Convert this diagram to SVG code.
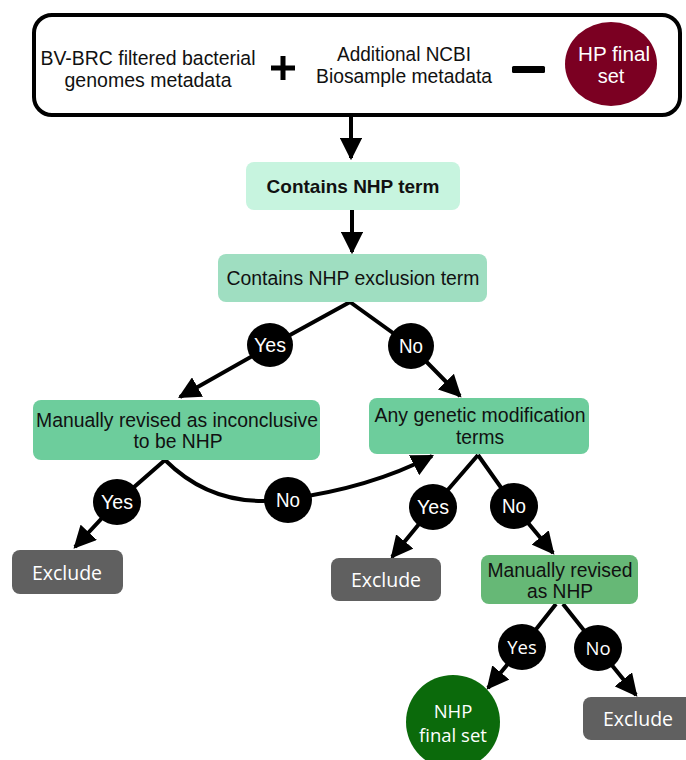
<svg xmlns="http://www.w3.org/2000/svg" width="686" height="760" viewBox="0 0 686 760">
<defs>
<marker id="ah" viewBox="0 0 10 10" refX="9" refY="5" markerWidth="5.6" markerHeight="5.6" markerUnits="strokeWidth" orient="auto">
<path d="M0,0 L10,5 L0,10 Z" fill="#000"/>
</marker>
<style>
.t{font-family:"Liberation Sans",Arial,sans-serif;font-size:20.5px;fill:#111;text-anchor:middle}
.c{fill:#000}
.ct{font-family:"Liberation Sans",Arial,sans-serif;font-size:20px;fill:#fff;text-anchor:middle}
.ln{stroke:#000;stroke-width:4;fill:none}
.ex{fill:#606060}
.ext{font-family:"Open Sans","Liberation Sans",sans-serif;font-size:19.5px;fill:#fff;text-anchor:middle}
.rt{font-family:"Open Sans","Liberation Sans",sans-serif;font-size:18.5px;fill:#fff;text-anchor:middle}
</style>
</defs>
<g id="connectors">
<path class="ln" d="M351,116 L351,158" marker-end="url(#ah)"/>
<path class="ln" d="M352,210 L352,252" marker-end="url(#ah)"/>
<path class="ln" d="M350,302 L270,346 L180,397" marker-end="url(#ah)"/>
<path class="ln" d="M350,302 L411,346 L460,396" marker-end="url(#ah)"/>
<path class="ln" d="M165,460 L117,502 L75,547" marker-end="url(#ah)"/>
<path class="ln" d="M165,460 Q215,510 288,499 Q370,488 432,456" marker-end="url(#ah)"/>
<path class="ln" d="M478,455 L433,507 L392,557" marker-end="url(#ah)"/>
<path class="ln" d="M478,455 L514,506 L553,553" marker-end="url(#ah)"/>
<path class="ln" d="M556,604 L522,647 L488,688" marker-end="url(#ah)"/>
<path class="ln" d="M563,604 L598,648 L636,695" marker-end="url(#ah)"/>
</g>
<g id="source">
<rect x="34" y="15" width="646" height="100" rx="18" fill="#fff" stroke="#000" stroke-width="4"/>
<text class="t" x="148" y="65" textLength="215" lengthAdjust="spacingAndGlyphs">BV-BRC filtered bacterial</text>
<text class="t" x="148" y="87" textLength="167" lengthAdjust="spacingAndGlyphs">genomes metadata</text>
<path d="M283,56 V80 M271,68 H295" stroke="#000" stroke-width="5"/>
<text class="t" x="404" y="61" textLength="134" lengthAdjust="spacingAndGlyphs">Additional NCBI</text>
<text class="t" x="404" y="83" textLength="176" lengthAdjust="spacingAndGlyphs">Biosample metadata</text>
<rect x="512" y="66" width="33" height="7" rx="1.5" fill="#000"/>
</g>
<g id="hp">
<ellipse cx="611" cy="64" rx="46" ry="42" fill="#7b0022"/>
<text class="ct" x="614" y="61" textLength="72" lengthAdjust="spacingAndGlyphs">HP final</text>
<text class="ct" x="611" y="83">set</text>
</g>
<g id="n1">
<rect x="246" y="162" width="214" height="48" rx="8" fill="#c7f4df"/>
<text x="353" y="193" style="font-family:'Liberation Sans',Arial,sans-serif;font-size:19px;font-weight:bold;fill:#111;text-anchor:middle">Contains NHP term</text>
</g>
<g id="n2">
<rect x="218" y="254" width="269" height="48" rx="8" fill="#9fdec1"/>
<text x="353" y="285" style="font-family:'Liberation Sans',Arial,sans-serif;font-size:19.4px;fill:#111;text-anchor:middle">Contains NHP exclusion term</text>
</g>
<g id="d1y"><ellipse cx="270" cy="345" rx="23" ry="22" class="c"/><text class="ct" x="270" y="352" textLength="32" lengthAdjust="spacingAndGlyphs">Yes</text></g>
<g id="d1n"><ellipse cx="411" cy="346" rx="23" ry="23" class="c"/><text class="ct" x="411" y="353" textLength="24" lengthAdjust="spacingAndGlyphs">No</text></g>
<g id="n3">
<rect x="33" y="400" width="287" height="60" rx="8" fill="#6dcd9c"/>
<text class="t" x="177" y="427" textLength="282" lengthAdjust="spacingAndGlyphs">Manually revised as inconclusive</text>
<text class="t" x="178" y="448" textLength="89" lengthAdjust="spacingAndGlyphs">to be NHP</text>
</g>
<g id="n4">
<rect x="369" y="398" width="220" height="56" rx="8" fill="#6dcd9c"/>
<text class="t" x="480" y="422" textLength="211" lengthAdjust="spacingAndGlyphs">Any genetic modification</text>
<text class="t" x="480" y="444" textLength="48" lengthAdjust="spacingAndGlyphs">terms</text>
</g>
<g id="d2y"><ellipse cx="117" cy="502" rx="24" ry="23" class="c"/><text class="ct" x="117" y="509" textLength="32" lengthAdjust="spacingAndGlyphs">Yes</text></g>
<g id="d2n"><ellipse cx="288" cy="500" rx="24" ry="23" class="c"/><text class="ct" x="288" y="507" textLength="24" lengthAdjust="spacingAndGlyphs">No</text></g>
<g id="d3y"><ellipse cx="433" cy="507" rx="24" ry="23" class="c"/><text class="ct" x="433" y="514" textLength="32" lengthAdjust="spacingAndGlyphs">Yes</text></g>
<g id="d3n"><ellipse cx="514" cy="506" rx="24" ry="23" class="c"/><text class="ct" x="514" y="513" textLength="24" lengthAdjust="spacingAndGlyphs">No</text></g>
<g id="ex1"><rect x="12" y="550" width="111" height="44" rx="8" class="ex"/><text class="ext" x="67" y="580">Exclude</text></g>
<g id="ex2"><rect x="331" y="558" width="110" height="43" rx="8" class="ex"/><text class="ext" x="386" y="587">Exclude</text></g>
<g id="n5">
<rect x="481" y="555" width="157" height="49" rx="8" fill="#66b876"/>
<text class="t" x="560" y="577" textLength="145" lengthAdjust="spacingAndGlyphs">Manually revised</text>
<text class="t" x="560" y="598" textLength="66" lengthAdjust="spacingAndGlyphs">as NHP</text>
</g>
<g id="d4y"><ellipse cx="522" cy="647" rx="24" ry="23" class="c"/><text class="rt" x="522" y="654">Yes</text></g>
<g id="d4n"><ellipse cx="598" cy="648" rx="24" ry="23" class="c"/><text class="rt" x="598" y="655">No</text></g>
<g id="nhp">
<circle cx="453" cy="722" r="47" fill="#0b6a0b"/>
<text class="rt" x="453" y="718">NHP</text>
<text class="rt" x="453" y="742">final set</text>
</g>
<g id="ex3"><rect x="583" y="697" width="110" height="43" rx="8" class="ex"/><text class="ext" x="638" y="726">Exclude</text></g>
</svg>
